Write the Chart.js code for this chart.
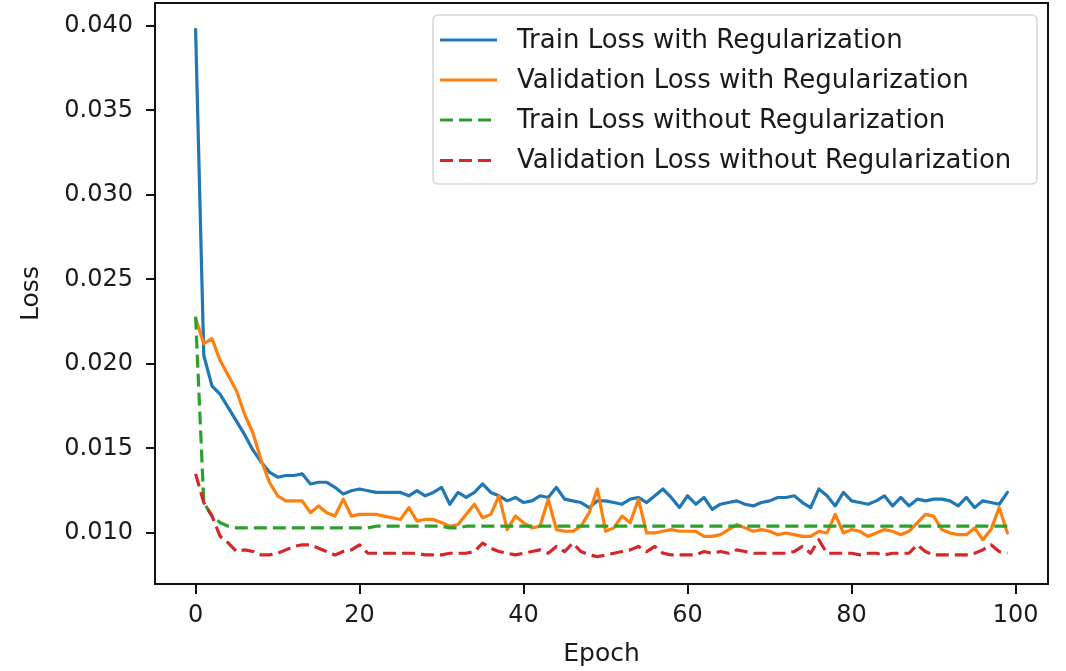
<!DOCTYPE html>
<html>
<head>
<meta charset="utf-8">
<script src="https://cdn.jsdelivr.net/npm/chart.js@4.4.1/dist/chart.umd.min.js"></script>
<style>
  html, body { margin: 0; padding: 0; background: #ffffff; }
  #wrap { width: 1066px; height: 671px; position: relative; }
</style>
</head>
<body>
<div id="wrap"><canvas id="c" width="1066" height="671"></canvas></div>
<script>
const epochs = [0,1,2,3,4,5,6,7,8,9,10,11,12,13,14,15,16,17,18,19,20,21,22,23,24,25,26,27,28,29,30,31,32,33,34,35,36,37,38,39,40,41,42,43,44,45,46,47,48,49,50,51,52,53,54,55,56,57,58,59,60,61,62,63,64,65,66,67,68,69,70,71,72,73,74,75,76,77,78,79,80,81,82,83,84,85,86,87,88,89,90,91,92,93,94,95,96,97,98,99];

const trainReg = [0.0398,0.0205,0.0187,0.0182,0.0174,0.0166,0.0158,0.0149,0.0142,0.0136,
  0.0133,0.0134,0.0134,0.0135,0.0129,0.0130,0.0130,0.0127,0.0123,0.0125,
  0.0126,0.0125,0.0124,0.0124,0.0124,0.0124,0.0122,0.0125,0.0122,0.0124,
  0.0127,0.0117,0.0124,0.0121,0.0124,0.0129,0.0124,0.0122,0.0119,0.0121,
  0.0118,0.0119,0.0122,0.0121,0.0127,0.0120,0.0119,0.0118,0.0115,0.0119,
  0.0119,0.0118,0.0117,0.0120,0.0121,0.0118,0.0122,0.0126,0.0121,0.0115,
  0.0122,0.0117,0.0121,0.0114,0.0117,0.0118,0.0119,0.0117,0.0116,0.0118,
  0.0119,0.0121,0.0121,0.0122,0.0118,0.0115,0.0126,0.0122,0.0116,0.0124,
  0.0119,0.0118,0.0117,0.0119,0.0122,0.0116,0.0121,0.0116,0.0120,0.0119,
  0.0120,0.0120,0.0119,0.0116,0.0121,0.0115,0.0119,0.0118,0.0117,0.0124];

const valReg = [0.0227,0.0212,0.0215,0.0202,0.0193,0.0184,0.0170,0.0159,0.0143,0.0130,
  0.0122,0.0119,0.0119,0.0119,0.0112,0.0116,0.0112,0.0110,0.0120,0.0110,
  0.0111,0.0111,0.0111,0.0110,0.0109,0.0108,0.0115,0.0107,0.0108,0.0108,
  0.0106,0.0104,0.0105,0.0111,0.0117,0.0109,0.0111,0.0122,0.0102,0.0110,
  0.0106,0.0103,0.0104,0.0120,0.0102,0.0101,0.0101,0.0104,0.0112,0.0126,
  0.0101,0.0103,0.0110,0.0106,0.0120,0.0100,0.0100,0.0101,0.0102,0.0101,
  0.0101,0.0101,0.0098,0.0098,0.0099,0.0102,0.0105,0.0103,0.0101,0.0102,
  0.0101,0.0099,0.0100,0.0099,0.0098,0.0098,0.0101,0.0100,0.0111,0.0100,
  0.0102,0.0101,0.0098,0.0100,0.0102,0.0101,0.0099,0.0101,0.0106,0.0111,
  0.0110,0.0102,0.0100,0.0099,0.0099,0.0103,0.0096,0.0102,0.0115,0.0100];

const trainNoReg = [0.0228,0.0118,0.0110,0.0106,0.0104,0.0103,0.0103,0.0103,0.0103,0.0103,
  0.0103,0.0103,0.0103,0.0103,0.0103,0.0103,0.0103,0.0103,0.0103,0.0103,
  0.0103,0.0103,0.0104,0.0104,0.0104,0.0104,0.0104,0.0104,0.0104,0.0104,
  0.0104,0.0103,0.0103,0.0104,0.0104,0.0104,0.0104,0.0104,0.0104,0.0104,
  0.0104,0.0104,0.0104,0.0104,0.0104,0.0104,0.0104,0.0104,0.0104,0.0104,
  0.0104,0.0104,0.0104,0.0104,0.0104,0.0104,0.0104,0.0104,0.0104,0.0104,
  0.0104,0.0104,0.0104,0.0104,0.0104,0.0104,0.0104,0.0104,0.0104,0.0104,
  0.0104,0.0104,0.0104,0.0104,0.0104,0.0104,0.0104,0.0104,0.0104,0.0104,
  0.0104,0.0104,0.0104,0.0104,0.0104,0.0104,0.0104,0.0104,0.0104,0.0104,
  0.0104,0.0104,0.0104,0.0104,0.0104,0.0104,0.0104,0.0104,0.0104,0.0104];

const valNoReg = [0.0135,0.0118,0.0110,0.0098,0.0094,0.0089,0.0090,0.0089,0.0087,0.0087,
  0.0088,0.0090,0.0092,0.0093,0.0093,0.0091,0.0089,0.0087,0.0089,0.0090,
  0.0093,0.0088,0.0088,0.0088,0.0088,0.0088,0.0088,0.0088,0.0087,0.0087,
  0.0087,0.0088,0.0088,0.0088,0.0089,0.0094,0.0091,0.0089,0.0088,0.0087,
  0.0088,0.0089,0.0090,0.0088,0.0092,0.0089,0.0094,0.0089,0.0087,0.0086,
  0.0087,0.0088,0.0089,0.0090,0.0092,0.0089,0.0092,0.0088,0.0087,0.0087,
  0.0087,0.0087,0.0089,0.0088,0.0089,0.0088,0.0090,0.0089,0.0088,0.0088,
  0.0088,0.0088,0.0088,0.0089,0.0092,0.0088,0.0096,0.0088,0.0088,0.0088,
  0.0088,0.0087,0.0088,0.0088,0.0087,0.0088,0.0088,0.0088,0.0093,0.0089,
  0.0087,0.0087,0.0087,0.0087,0.0087,0.0088,0.0090,0.0093,0.0089,0.0088];

const seriesLabels = [
  'Train Loss with Regularization',
  'Validation Loss with Regularization',
  'Train Loss without Regularization',
  'Validation Loss without Regularization'
];
const xTickValues = [0, 20, 40, 60, 80, 100];
const yTickValues = [0.010, 0.015, 0.020, 0.025, 0.030, 0.035, 0.040];

const FONT = 'DejaVu Sans';
const TXT = '#1a1a1a';

const frameAndLegend = {
  id: 'frameAndLegend',
  afterDatasetsDraw(chart) {
    const ctx = chart.ctx;
    const a = chart.chartArea;
    ctx.save();
    ctx.strokeStyle = '#111';
    ctx.lineWidth = 2;
    ctx.setLineDash([]);
    ctx.strokeRect(a.left, a.top, a.right - a.left, a.bottom - a.top);

    // legend
    const bx = 433, by = 15, bw = 604, bh = 169;
    ctx.beginPath();
    ctx.roundRect(bx, by, bw, bh, 5);
    ctx.fillStyle = 'rgba(255,255,255,0.85)';
    ctx.fill();
    ctx.strokeStyle = '#d6d6d6';
    ctx.lineWidth = 1.5;
    ctx.stroke();
    const rows = [40, 80, 120, 160.5];
    chart.data.datasets.forEach((ds, i) => {
      const y = rows[i];
      ctx.beginPath();
      ctx.strokeStyle = ds.borderColor;
      ctx.lineWidth = 3.2;
      ctx.setLineDash(ds.borderDash || []);
      ctx.moveTo(440, y);
      ctx.lineTo(497, y);
      ctx.stroke();
      ctx.setLineDash([]);
      ctx.fillStyle = TXT;
      ctx.font = '26px "' + FONT + '"';
      ctx.textBaseline = 'middle';
      ctx.textAlign = 'left';
      ctx.fillText(ds.label, 517, y + 1);
    });
    ctx.restore();
  }
};

const mk = (label, data, color, dash, order) => ({
  label, data,
  borderColor: color,
  backgroundColor: color,
  borderWidth: 3.2,
  borderDash: dash,
  pointRadius: 0,
  pointHoverRadius: 0,
  tension: 0,
  fill: false,
  borderJoinStyle: 'round',
  borderCapStyle: dash.length ? 'butt' : 'round',
  order
});

new Chart(document.getElementById('c'), {
  type: 'line',
  data: {
    labels: epochs,
    datasets: [
      mk(seriesLabels[0], trainReg, '#1f77b4', [], 3),
      mk(seriesLabels[1], valReg, '#ff7f0e', [], 2),
      mk(seriesLabels[2], trainNoReg, '#2ca02c', [13, 6], 1),
      mk(seriesLabels[3], valNoReg, '#d62728', [13, 6], 0)
    ]
  },
  options: {
    responsive: false,
    animation: false,
    devicePixelRatio: 1,
    layout: { padding: { left: 0, right: 18, top: 3, bottom: 0 } },
    plugins: {
      legend: { display: false },
      tooltip: { enabled: false },
      title: { display: false }
    },
    scales: {
      x: {
        type: 'linear',
        min: -4.95,
        max: 103.95,
        afterFit: s => { s.height = 87; s.paddingLeft = 0; s.paddingRight = 0; },
        afterBuildTicks: s => { s.ticks = xTickValues.map(v => ({ value: v })); },
        ticks: {
          font: { family: FONT, size: 24 },
          color: TXT,
          padding: 7,
          maxRotation: 0,
          autoSkip: false,
          callback: v => String(v)
        },
        grid: { drawOnChartArea: false, drawTicks: true, tickLength: 10, color: '#111', lineWidth: 2 },
        border: { display: false },
        title: {
          display: true,
          text: 'Epoch',
          font: { family: FONT, size: 25 },
          color: TXT,
          padding: { top: 0, bottom: 2 }
        }
      },
      y: {
        type: 'linear',
        min: 0.00698,
        max: 0.04136,
        afterFit: s => { s.width = 155; s.paddingTop = 0; s.paddingBottom = 0; },
        afterBuildTicks: s => { s.ticks = yTickValues.map(v => ({ value: v })); },
        ticks: {
          font: { family: FONT, size: 24 },
          color: TXT,
          padding: 13,
          autoSkip: false,
          callback: v => Number(v).toFixed(3)
        },
        grid: { drawOnChartArea: false, drawTicks: true, tickLength: 9, color: '#111', lineWidth: 2 },
        border: { display: false },
        title: {
          display: true,
          text: 'Loss',
          font: { family: FONT, size: 25 },
          color: TXT,
          padding: { top: 16, bottom: 0 }
        }
      }
    }
  },
  plugins: [frameAndLegend]
});
</script>
</body>
</html>
